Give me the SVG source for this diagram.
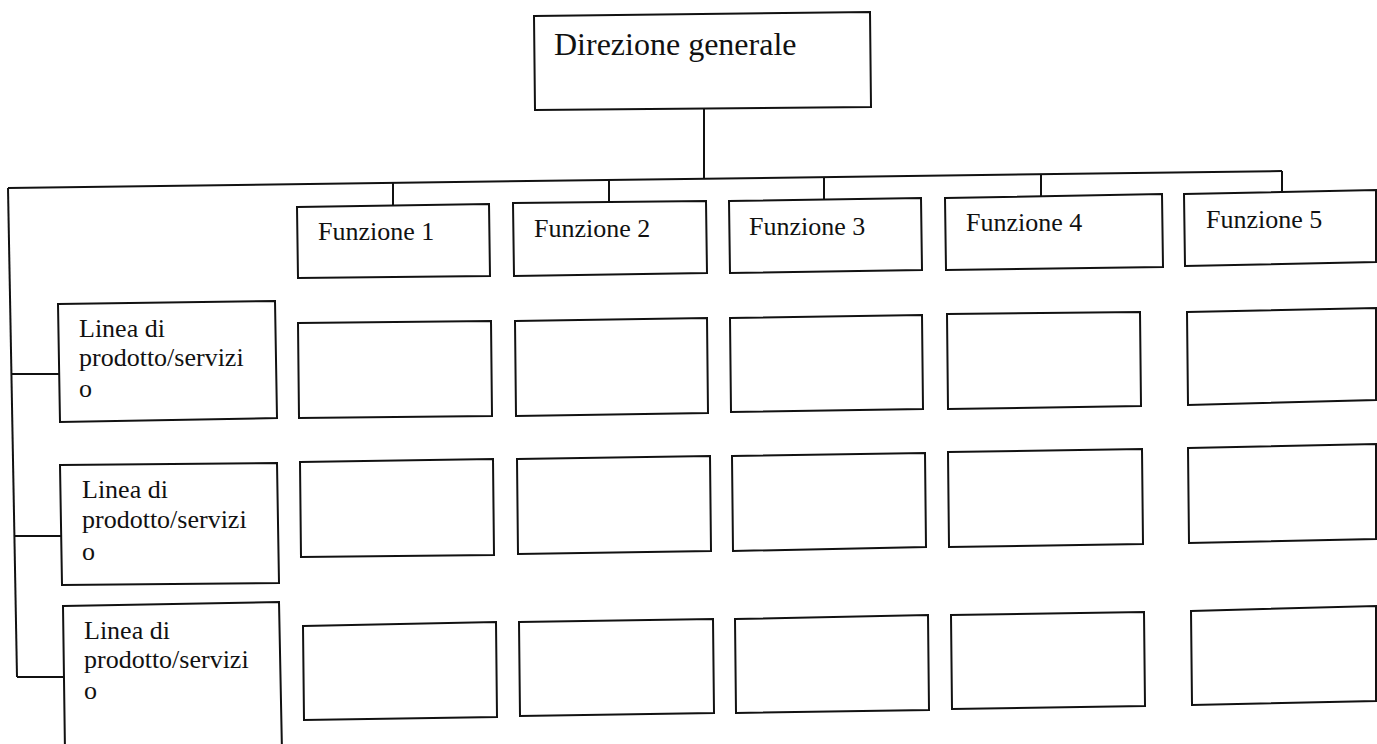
<svg xmlns="http://www.w3.org/2000/svg" width="1377" height="744" viewBox="0 0 1377 744">
<style>
.box{fill:#fff;stroke:#111;stroke-width:2;stroke-linejoin:miter}
.ln{fill:none;stroke:#111;stroke-width:2}
.t{font-family:"Liberation Serif","Times New Roman",serif;fill:#111}
.big{font-size:32px}
.mid{font-size:26px}
</style>
<rect width="1377" height="744" fill="#fff"/>
<g id="connectors">
<line class="ln" x1="704" y1="108" x2="704" y2="178"/>
<line class="ln" x1="8" y1="188" x2="1282" y2="171"/>
<line class="ln" x1="393" y1="183" x2="393" y2="205"/>
<line class="ln" x1="609" y1="180" x2="609" y2="202"/>
<line class="ln" x1="824" y1="177" x2="824" y2="199"/>
<line class="ln" x1="1041" y1="174" x2="1041" y2="196"/>
<line class="ln" x1="1282" y1="171" x2="1282" y2="193"/>
<line class="ln" x1="8" y1="188" x2="17" y2="677"/>
<line class="ln" x1="12" y1="374" x2="59" y2="374"/>
<line class="ln" x1="15" y1="536" x2="61" y2="536"/>
<line class="ln" x1="17" y1="677" x2="64" y2="677"/>
</g>
<g id="direzione">
<polygon class="box" points="534,16 870,12 871,107 535,110"/>
<text class="t big" x="554" y="55">Direzione generale</text>
</g>
<g id="funzione1">
<polygon class="box" points="297,207 489,204 490,276 298,278"/>
<text class="t mid" x="318" y="240">Funzione 1</text>
</g>
<g id="funzione2">
<polygon class="box" points="513,203 706,201 707,273 514,276"/>
<text class="t mid" x="534" y="237">Funzione 2</text>
</g>
<g id="funzione3">
<polygon class="box" points="729,201 921,198 922,270 730,273"/>
<text class="t mid" x="749" y="235">Funzione 3</text>
</g>
<g id="funzione4">
<polygon class="box" points="945,198 1162,194 1163,267 946,270"/>
<text class="t mid" x="966" y="231">Funzione 4</text>
</g>
<g id="funzione5">
<polygon class="box" points="1184,194 1376,190 1376,262 1185,266"/>
<text class="t mid" x="1206" y="228">Funzione 5</text>
</g>
<g id="linea1">
<polygon class="box" points="58,304 275,301 277,418 60,422"/>
<text class="t mid" x="79" y="337">Linea di</text>
<text class="t mid" x="79" y="366">prodotto/servizi</text>
<text class="t mid" x="79" y="397">o</text>
</g>
<g id="linea2">
<polygon class="box" points="60,465 277,463 279,583 62,585"/>
<text class="t mid" x="82" y="498">Linea di</text>
<text class="t mid" x="82" y="528">prodotto/servizi</text>
<text class="t mid" x="82" y="560">o</text>
</g>
<g id="linea3">
<polygon class="box" points="63,606 279,602 282,752 65,752"/>
<text class="t mid" x="84" y="639">Linea di</text>
<text class="t mid" x="84" y="668">prodotto/servizi</text>
<text class="t mid" x="84" y="699">o</text>
</g>
<g id="cell-1-1"><polygon class="box" points="298,323 491,321 492,416 299,418"/></g>
<g id="cell-1-2"><polygon class="box" points="515,321 707,318 708,413 516,416"/></g>
<g id="cell-1-3"><polygon class="box" points="730,318 922,315 923,409 731,412"/></g>
<g id="cell-1-4"><polygon class="box" points="947,314 1140,312 1141,406 948,409"/></g>
<g id="cell-1-5"><polygon class="box" points="1187,312 1376,308 1376,400 1188,405"/></g>
<g id="cell-2-1"><polygon class="box" points="300,462 493,459 494,555 301,557"/></g>
<g id="cell-2-2"><polygon class="box" points="517,459 710,456 711,551 518,554"/></g>
<g id="cell-2-3"><polygon class="box" points="732,456 925,453 926,547 733,551"/></g>
<g id="cell-2-4"><polygon class="box" points="948,452 1142,449 1143,544 949,547"/></g>
<g id="cell-2-5"><polygon class="box" points="1188,448 1376,444 1376,539 1189,543"/></g>
<g id="cell-3-1"><polygon class="box" points="303,626 496,622 497,717 304,720"/></g>
<g id="cell-3-2"><polygon class="box" points="519,622 713,619 714,713 520,716"/></g>
<g id="cell-3-3"><polygon class="box" points="735,619 928,615 929,710 736,713"/></g>
<g id="cell-3-4"><polygon class="box" points="951,615 1144,612 1145,706 952,709"/></g>
<g id="cell-3-5"><polygon class="box" points="1191,611 1376,606 1376,701 1192,705"/></g>
</svg>
